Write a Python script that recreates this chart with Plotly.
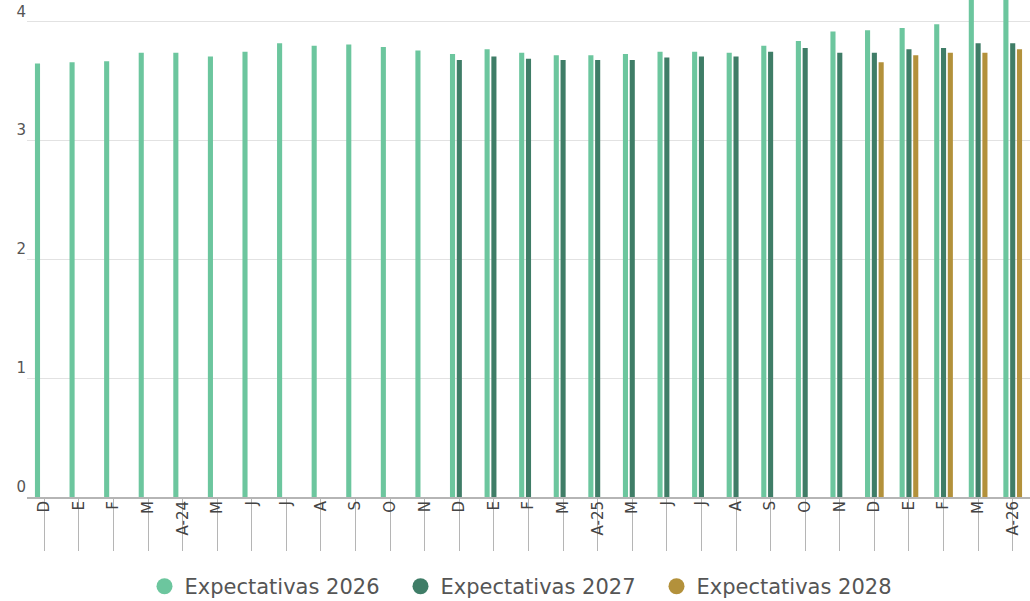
import plotly.graph_objects as go

# categories (month of survey)
meses = ["D", "E", "F", "M", "A-24", "M", "J", "J", "A", "S", "O", "N",
         "D", "E", "F", "M", "A-25", "M", "J", "J", "A", "S", "O", "N",
         "D", "E", "F", "M", "A-26"]
# x positions as indices so repeated month letters stay separate
pos = list(range(len(meses)))

exp_2026 = [3.65, 3.66, 3.67, 3.74, 3.74, 3.71, 3.75, 3.82, 3.80, 3.81, 3.79, 3.76,
            3.73, 3.77, 3.74, 3.72, 3.72, 3.73, 3.75, 3.75, 3.74, 3.80, 3.84, 3.92,
            3.93, 3.95, 3.98, 4.30, 4.35]
exp_2027 = [None] * 12 + [3.68, 3.71, 3.69, 3.68, 3.68, 3.68, 3.70, 3.71, 3.71,
                          3.75, 3.78, 3.74, 3.74, 3.77, 3.78, 3.82, 3.82]
exp_2028 = [None] * 24 + [3.66, 3.72, 3.74, 3.74, 3.77]

c26 = "#6cc69e"
c27 = "#3f7d67"
c28 = "#b3913b"

fig = go.Figure()
for name, vals, col in [("Expectativas 2026", exp_2026, c26),
                        ("Expectativas 2027", exp_2027, c27),
                        ("Expectativas 2028", exp_2028, c28)]:
    fig.add_trace(go.Bar(x=pos, y=vals, name=name, marker_color=col,
                         marker_line_width=0, showlegend=False))
# round markers for the legend only
for name, col in [("Expectativas 2026", c26), ("Expectativas 2027", c27),
                  ("Expectativas 2028", c28)]:
    fig.add_trace(go.Scatter(x=[None], y=[None], mode="markers", name=name,
                             marker=dict(color=col, size=16, symbol="circle")))

fig.update_layout(
    width=1030, height=601,
    margin=dict(l=27, r=0, t=0, b=104, autoexpand=False),
    paper_bgcolor="white", plot_bgcolor="white",
    barmode="group", bargap=0.41, bargroupgap=0.25,
    font=dict(family="DejaVu Sans", color="#555555"),
    legend=dict(orientation="h", x=0.5, xanchor="center",
                yref="container", y=0.024, yanchor="middle",
                font=dict(size=21, color="#555555"), itemwidth=30, tracegroupgap=0,
                entrywidth=211, entrywidthmode="pixels"),
)
fig.update_xaxes(
    tickmode="array", tickvals=pos, ticktext=meses,
    range=[-0.5, len(meses) - 0.5],
    tickangle=-90, tickfont=dict(size=15, color="#444444"),
    ticks="outside", tickson="boundaries", ticklen=52, tickcolor="#b5b5b5", tickwidth=1,
    ticklabelstandoff=-56,
    showline=True, linecolor="#b5b5b5", linewidth=2,
    showgrid=False, zeroline=False,
)
fig.update_yaxes(
    range=[0, 4.185], tickvals=[0, 1, 2, 3, 4],
    ticklabelposition="outside top", tickfont=dict(size=15, color="#555555"),
    showgrid=True, gridcolor="#e2e2e2", gridwidth=1,
    zeroline=False, showline=False,
)

fig.write_html("out.html", config={"displayModeBar": False},
               post_script="document.body.style.margin='0';")
